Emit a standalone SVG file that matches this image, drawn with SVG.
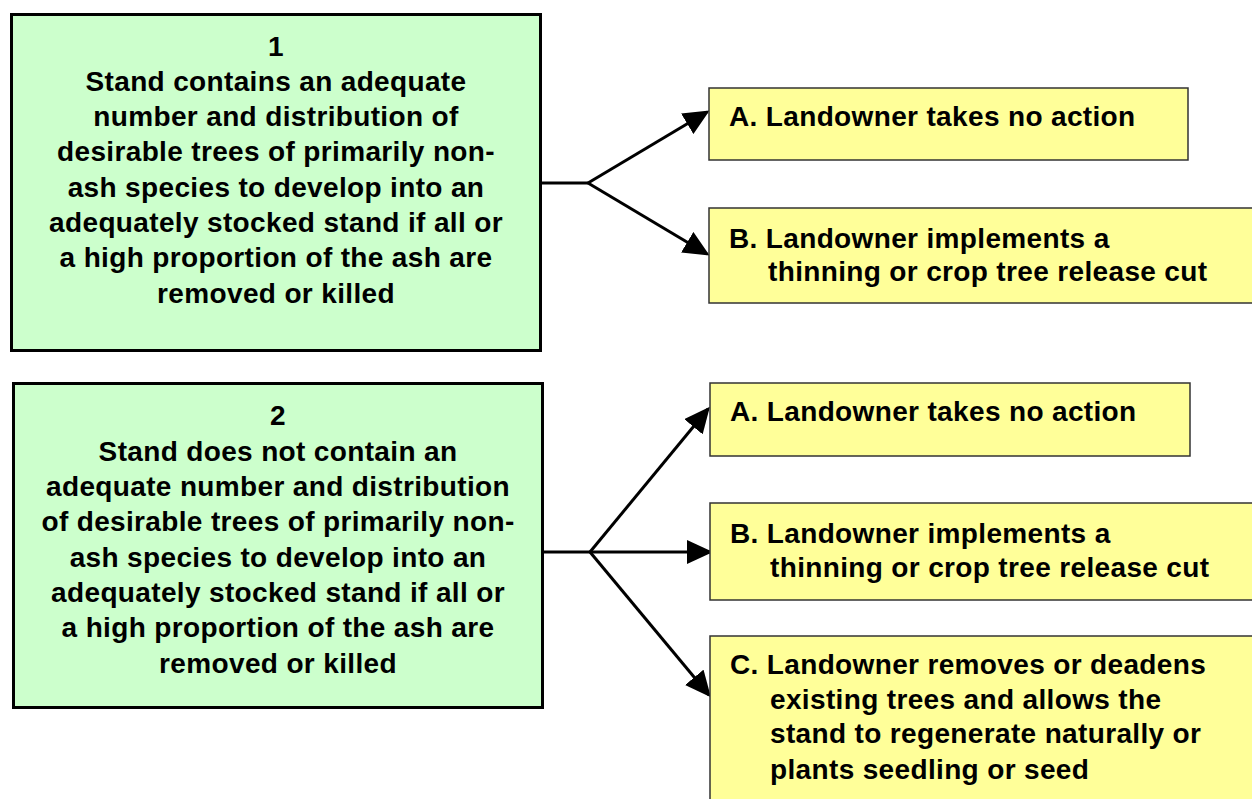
<svg xmlns="http://www.w3.org/2000/svg" width="1252" height="799" viewBox="0 0 1252 799">
<style>
.g{fill:#CCFFCC;stroke:#000;stroke-width:3}
.y{fill:#FFFF99;stroke:#333;stroke-width:1.5}
text{font-family:"Liberation Sans",Arial,sans-serif;font-weight:bold;font-size:28px;letter-spacing:0.35px;fill:#000}
.c{text-anchor:middle}
.ln{stroke:#000;stroke-width:3;fill:none}
</style>
<defs>
<marker id="ah" markerUnits="userSpaceOnUse" markerWidth="26" markerHeight="24" refX="23" refY="12" orient="auto">
<path d="M0,0 L26,12 L0,24 Z" fill="#000"/>
</marker>
</defs>
<g id="connectors">
<path class="ln" d="M541,183 H588"/>
<path class="ln" d="M588,183 L707,112" marker-end="url(#ah)"/>
<path class="ln" d="M588,183 L707,254" marker-end="url(#ah)"/>
<path class="ln" d="M543,552 H590"/>
<path class="ln" d="M590,552 L708,409" marker-end="url(#ah)"/>
<path class="ln" d="M590,552 L710,552" marker-end="url(#ah)"/>
<path class="ln" d="M590,552 L709,695" marker-end="url(#ah)"/>
</g>
<g id="node1">
<rect class="g" x="11.5" y="14.5" width="529" height="336"/>
<text class="c" x="276" y="56">1</text>
<text class="c" x="276" y="91">Stand contains an adequate</text>
<text class="c" x="276" y="126">number and distribution of</text>
<text class="c" x="276" y="161">desirable trees of primarily non-</text>
<text class="c" x="276" y="197">ash species to develop into an</text>
<text class="c" x="276" y="232">adequately stocked stand if all or</text>
<text class="c" x="276" y="267">a high proportion of the ash are</text>
<text class="c" x="276" y="303">removed or killed</text>
</g>
<g id="node2">
<rect class="g" x="13.5" y="383.5" width="529" height="324"/>
<text class="c" x="278" y="425">2</text>
<text class="c" x="278" y="461">Stand does not contain an</text>
<text class="c" x="278" y="496">adequate number and distribution</text>
<text class="c" x="278" y="531">of desirable trees of primarily non-</text>
<text class="c" x="278" y="567">ash species to develop into an</text>
<text class="c" x="278" y="602">adequately stocked stand if all or</text>
<text class="c" x="278" y="637">a high proportion of the ash are</text>
<text class="c" x="278" y="673">removed or killed</text>
</g>
<g id="node1A">
<rect class="y" x="709" y="88" width="479" height="72"/>
<text x="729" y="126">A. Landowner takes no action</text>
</g>
<g id="node1B">
<rect class="y" x="709" y="208" width="550" height="95"/>
<text x="729" y="248">B. Landowner implements a</text>
<text x="768" y="281">thinning or crop tree release cut</text>
</g>
<g id="node2A">
<rect class="y" x="710" y="383" width="480" height="73"/>
<text x="730" y="421">A. Landowner takes no action</text>
</g>
<g id="node2B">
<rect class="y" x="710" y="503" width="550" height="97"/>
<text x="730" y="543">B. Landowner implements a</text>
<text x="770" y="577">thinning or crop tree release cut</text>
</g>
<g id="node2C">
<rect class="y" x="710" y="636" width="550" height="170"/>
<text x="730" y="674">C. Landowner removes or deadens</text>
<text x="770" y="709">existing trees and allows the</text>
<text x="770" y="743">stand to regenerate naturally or</text>
<text x="770" y="779">plants seedling or seed</text>
</g>
</svg>
